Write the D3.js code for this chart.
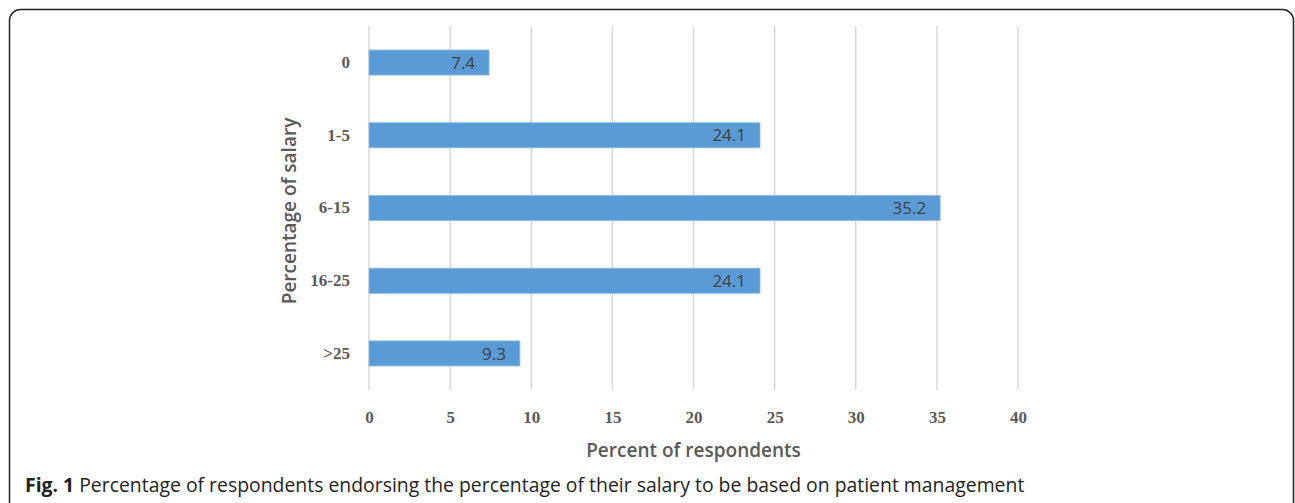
<!DOCTYPE html>
<html>
<head>
<meta charset="utf-8">
<script src="https://cdn.jsdelivr.net/npm/d3@7"></script>
<style>
  html, body { margin: 0; padding: 0; background: #fff; }
</style>
</head>
<body>
<div id="chart"></div>
<script>
// salary brackets and share of respondents
var categories = ["0", "1-5", "6-15", "16-25", ">25"];
var values = [7.4, 24.1, 35.2, 24.1, 9.3];
var xTicks = [0, 5, 10, 15, 20, 25, 30, 35, 40];

var width = 1295, height = 503;
var margin = { left: 369, right: 277, top: 26, bottom: 113 };

var svg = d3.select("#chart").append("svg")
    .attr("width", width)
    .attr("height", height);

// outer frame
svg.append("rect")
    .attr("x", 9.5).attr("y", 9.5)
    .attr("width", 1284).attr("height", 510)
    .attr("rx", 11)
    .attr("fill", "none")
    .attr("stroke", "#222")
    .attr("stroke-width", 1.5);

var xScale = d3.scaleLinear()
    .domain([0, 40])
    .range([margin.left, width - margin.right]);

var yScale = d3.scaleBand()
    .domain(categories)
    .range([margin.top, height - margin.bottom])
    .paddingInner(0.655)
    .paddingOuter(0.33);

// vertical gridlines
svg.append("g")
    .selectAll("line")
    .data(xTicks)
    .enter()
    .append("line")
    .attr("x1", d => xScale(d)).attr("x2", d => xScale(d))
    .attr("y1", margin.top).attr("y2", height - margin.bottom)
    .attr("stroke", "#d9d9d9")
    .attr("stroke-width", 1.5);

// bars
svg.append("g")
    .selectAll("rect")
    .data(values)
    .enter()
    .append("rect")
    .attr("x", xScale(0))
    .attr("y", (d, i) => yScale(categories[i]))
    .attr("width", d => xScale(d) - xScale(0))
    .attr("height", yScale.bandwidth())
    .attr("fill", "#5b9bd5")
    .attr("stroke", "#8fbbe6")
    .attr("stroke-width", 0.8);

// value labels
svg.append("g")
    .selectAll("text")
    .data(values)
    .enter()
    .append("text")
    .attr("x", d => xScale(d) - 14)
    .attr("y", (d, i) => yScale(categories[i]) + yScale.bandwidth() / 2)
    .attr("dy", "0.36em")
    .attr("text-anchor", "end")
    .attr("font-family", "Open Sans, sans-serif")
    .attr("font-size", 17)
    .attr("fill", "#404040")
    .text(d => d.toFixed(1));

// y axis labels
var yAxis = svg.append("g")
    .attr("transform", `translate(${margin.left - 19},0)`)
    .call(d3.axisLeft(yScale).tickSize(0).tickPadding(0));
yAxis.select(".domain").remove();
yAxis.selectAll("text")
    .attr("font-family", "Liberation Serif, serif")
    .attr("font-weight", "bold")
    .attr("font-size", 17)
    .attr("fill", "#595959");

// x axis labels
var xAxis = svg.append("g")
    .attr("transform", `translate(0,${height - margin.bottom})`)
    .call(d3.axisBottom(xScale).tickValues(xTicks).tickSize(0).tickPadding(21));
xAxis.select(".domain").remove();
xAxis.selectAll("text")
    .attr("font-family", "Liberation Serif, serif")
    .attr("font-weight", "bold")
    .attr("font-size", 17)
    .attr("fill", "#595959");

// axis titles
svg.append("text")
    .attr("x", (xScale(0) + xScale(40)) / 2)
    .attr("y", 457)
    .attr("text-anchor", "middle")
    .attr("font-family", "Open Sans, sans-serif")
    .attr("font-weight", 600)
    .attr("font-size", 19)
    .attr("fill", "#595959")
    .text("Percent of respondents");

svg.append("text")
    .attr("transform", "translate(289,211) rotate(-90)")
    .attr("text-anchor", "middle")
    .attr("dy", "0.35em")
    .attr("font-family", "Open Sans, sans-serif")
    .attr("font-weight", 600)
    .attr("font-size", 19)
    .attr("fill", "#595959")
    .text("Percentage of salary");

// caption
var cap = svg.append("text")
    .attr("x", 25)
    .attr("y", 492)
    .attr("font-family", "Open Sans, sans-serif")
    .attr("font-size", 19.4)
    .attr("fill", "#231f20");
cap.append("tspan").attr("font-weight", "bold").text("Fig. 1");
cap.append("tspan").text(" Percentage of respondents endorsing the percentage of their salary to be based on patient management");
</script>
</body>
</html>
